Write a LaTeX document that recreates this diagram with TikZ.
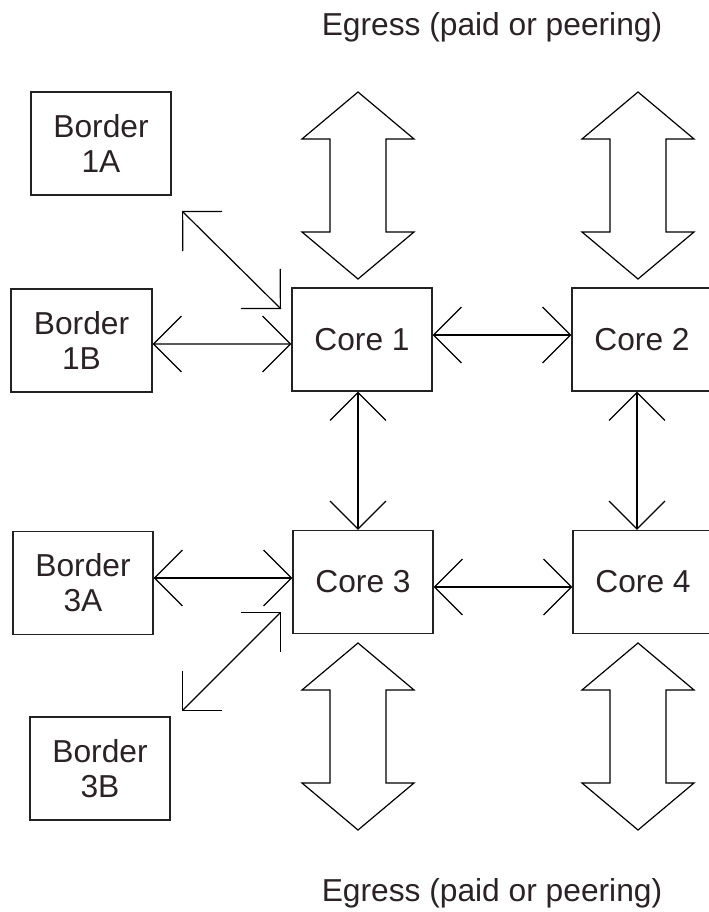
\documentclass[tikz,border=0pt]{standalone}
\usepackage{fontspec}
\setmainfont{Liberation Sans}
\usepackage{xcolor}
\usepackage{tikz}
\usetikzlibrary{arrows.meta,positioning,calc}
\definecolor{cInk}{HTML}{2A2226}
\definecolor{cEdge}{HTML}{222222}
\tikzset{
  corebox/.style={draw=cEdge,line width=0.9pt,minimum width=105pt,minimum height=77.25pt,inner sep=0pt,align=center,font=\fontsize{23.8}{26.25}\selectfont,text=cInk},
  brdbox/.style={corebox,minimum width=#1},
  brdbox/.default=105pt,
  link/.style={{Straight Barb[length=21pt,width=42pt]}-{Straight Barb[length=21pt,width=42pt]},line width=0.9pt,color=black},
  fat/.style={draw=black,fill=white,line width=0.9pt,line join=miter},
  egr/.style={font=\fontsize{23.8}{26.25}\selectfont,text=cInk,inner sep=0pt},
}

\begin{document}
\begin{tikzpicture}[x=0.75pt,y=-0.75pt]
  \useasboundingbox (0,0) rectangle (708,912);
  % core routers
  \node[corebox] (c1) at (362,339.5) {Core 1};
  \node[corebox] (c2) at (642,339.5) {Core 2};
  \node[corebox] (c3) at (363,582) {Core 3};
  \node[corebox] (c4) at (643,582) {Core 4};
  % border routers
  \node[brdbox] (b1a) at (101,143.5) {Border\\1A};
  \node[brdbox=105.75pt] (b1b) at (81.5,340.5) {Border\\1B};
  \node[brdbox] (b3a) at (83,583) {Border\\3A};
  \node[brdbox] (b3b) at (100,768.5) {Border\\3B};
  % egress labels
  \node[egr] (egtop) at (492,27) {Egress (paid or peering)};
  \node[egr] (egbot) at (492,893) {Egress (paid or peering)};
  % free ends of the diagonal links
  \coordinate (d1s) at (182,211);
  \coordinate (d1e) at (281,309);
  \coordinate (d3s) at (281,612);
  \coordinate (d3e) at (182,711);
  % links
  \draw[link] ([yshift=-2.6pt]b1b.east) -- ([yshift=-3.4pt]c1.west);
  \draw[link] ([yshift=3.4pt]c1.east) -- ([yshift=3.4pt]c2.west);
  \draw[link] ([xshift=-3pt]c1.south) -- ([xshift=-3.75pt]c3.north);
  \draw[link] ([xshift=-3.75pt]c2.south) -- ([xshift=-4.5pt]c4.north);
  \draw[link] ([yshift=3.75pt]b3a.east) -- ([yshift=3pt]c3.west);
  \draw[link] ([yshift=-3.75pt]c3.east) -- ([yshift=-3.75pt]c4.west);
  \draw[link] (d1s) -- (d1e);
  \draw[link] (d3s) -- (d3e);
  % egress arrows
  \foreach \cx/\ty in {358/92,638/92,358/643,638/643}{
    \draw[fat] (\cx,\ty) -- ++(56,47) -- ++(-28,0) -- ++(0,93) -- ++(28,0) -- ++(-56,47)
      -- ++(-56,-47) -- ++(28,0) -- ++(0,-93) -- ++(-28,0) -- cycle;
  }
\end{tikzpicture}
\end{document}
